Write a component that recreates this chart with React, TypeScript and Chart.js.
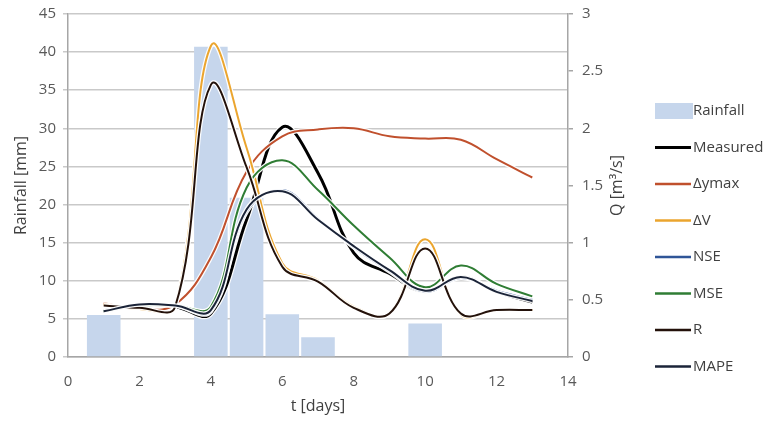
import { useEffect, useRef } from 'react';
import { Chart, registerables } from 'chart.js';

Chart.register(...registerables);

// ---- data ----
const days = [1, 2, 3, 4, 5, 6, 7, 8, 9, 10, 11, 12, 13];
const rainDays = [1, 4, 5, 6, 7, 10];
const rainfall = [5.5, 40.7, 20.9, 5.6, 2.6, 4.4];

const measured = [0.40, 0.45, 0.44, 0.38, 1.20, 2.01, 1.61, 0.91, 0.73, 0.57, 0.70, 0.57, 0.48];
const dYmax = [0.47, 0.42, 0.46, 0.87, 1.62, 1.93, 1.99, 2.00, 1.93, 1.91, 1.90, 1.73, 1.57];
const dV = [0.46, 0.42, 0.44, 2.72, 1.83, 0.82, 0.67, 0.44, 0.38, 1.03, 0.37, 0.41, 0.41];
const nse = [0.41, 0.46, 0.45, 0.40, 1.27, 1.46, 1.21, 0.96, 0.75, 0.57, 0.69, 0.58, 0.50];
const mse = [0.40, 0.45, 0.45, 0.44, 1.48, 1.72, 1.46, 1.15, 0.87, 0.61, 0.80, 0.64, 0.53];
const rSeries = [0.45, 0.43, 0.44, 2.38, 1.66, 0.79, 0.66, 0.43, 0.38, 0.95, 0.38, 0.41, 0.41];
const mape = [0.40, 0.46, 0.45, 0.41, 1.29, 1.45, 1.20, 0.97, 0.76, 0.58, 0.70, 0.57, 0.49];

const FONT = "'Open Sans', 'DejaVu Sans', sans-serif";
const TICK_COLOR = '#595959';
const GRID_COLOR = '#c9c9c9';
const AXIS_COLOR = '#a6a6a6';
const BAR_COLOR = '#c6d6ec';

const toXY = (vals: number[]) => vals.map((v, i) => ({ x: days[i], y: v }));

const haloPlugin = {
  id: 'halo',
  beforeDatasetDraw(chart: any, args: any) {
    const meta = args.meta;
    if (meta.type !== 'line') return;
    const el = meta.dataset;
    if (!el) return;
    const orig = el.options;
    el.options = Object.assign({}, orig, {
      borderColor: 'rgba(255,255,255,0.95)',
      borderWidth: (orig.borderWidth || 2) + 2.5,
    });
    const ctx = chart.ctx;
    ctx.save();
    el.draw(ctx, chart.chartArea);
    ctx.restore();
    el.options = orig;
  },
};

const sideLegendPlugin = {
  id: 'sideLegend',
  afterDraw(chart: any) {
    const ctx = chart.ctx;
    const ca = chart.chartArea;
    // right axis title, reading bottom to top
    ctx.save();
    ctx.fillStyle = '#404040';
    ctx.font = `16px ${FONT}`;
    ctx.textAlign = 'center';
    ctx.textBaseline = 'middle';
    ctx.translate(ca.right + 49, (ca.top + ca.bottom) / 2);
    ctx.rotate(-Math.PI / 2);
    ctx.fillText('Q [m\u00b3/s]', 0, 0);
    ctx.restore();

    // legend
    const sx = ca.right + 87;
    const sw = 38;
    const y0 = 103;
    const step = 36.5;
    ctx.save();
    ctx.font = `15px ${FONT}`;
    ctx.textBaseline = 'middle';
    ctx.textAlign = 'left';
    chart.data.datasets.forEach((ds: any, i: number) => {
      const y = y0 + i * step;
      if (ds.type === 'bar') {
        ctx.fillStyle = ds.backgroundColor;
        ctx.fillRect(sx, y - 8, sw, 16);
      } else {
        ctx.strokeStyle = ds.borderColor;
        ctx.lineWidth = ds.borderWidth >= 3 ? 3 : 2.5;
        ctx.beginPath();
        ctx.moveTo(sx, y);
        ctx.lineTo(sx + sw - 2, y);
        ctx.stroke();
      }
      ctx.fillStyle = '#404040';
      ctx.fillText(ds.label, sx + sw, y);
    });
    ctx.restore();
  },
};

export default function App() {
  const ref = useRef<HTMLCanvasElement | null>(null);

  useEffect(() => {
    if (!ref.current) return;
    const line = (label: string, vals: number[], color: string, width: number, order: number) => ({
      type: 'line' as const,
      label,
      data: toXY(vals),
      borderColor: color,
      backgroundColor: color,
      borderWidth: width,
      pointRadius: 0,
      tension: 0.4,
      fill: false,
      yAxisID: 'y1',
      order,
    });
    const chart = new Chart(ref.current, {
      type: 'bar',
      data: {
        datasets: [
          {
            type: 'bar',
            label: 'Rainfall',
            data: rainDays.map((d, i) => ({ x: d, y: rainfall[i] })),
            backgroundColor: BAR_COLOR,
            borderWidth: 0,
            barPercentage: 0.94,
            categoryPercentage: 1,
            yAxisID: 'y',
            order: 10,
          } as any,
          line('Measured', measured, '#000000', 3, 7),
          line('\u0394ymax', dYmax, '#c0502d', 2, 6),
          line('\u0394V', dV, '#eba52e', 2, 5),
          line('NSE', nse, '#2f5597', 2, 4),
          line('MSE', mse, '#2f7d34', 2, 3),
          line('R', rSeries, '#23110a', 2, 2),
          line('MAPE', mape, '#1b2438', 2, 1),
        ],
      },
      options: {
        animation: false,
        responsive: false,
        layout: { padding: { top: 6, right: 115, left: 0, bottom: 0 } },
        plugins: {
          legend: { display: false },
          tooltip: { enabled: false },
        },
        scales: {
          x: {
            type: 'linear',
            position: 'bottom',
            min: 0,
            max: 14,
            offset: false,
            ticks: { stepSize: 2, color: TICK_COLOR, font: { family: FONT, size: 15 }, padding: 16 },
            grid: { display: false, drawTicks: false, offset: false },
            border: { display: true, color: AXIS_COLOR, width: 1.5 },
            title: {
              display: true,
              text: 't [days]',
              color: '#404040',
              font: { family: FONT, size: 16 },
              padding: { top: 0, bottom: 1 },
            },
            afterFit(s: any) {
              s.height = 60;
              s.paddingLeft = 0;
              s.paddingRight = 0;
            },
          },
          y: {
            type: 'linear',
            position: 'left',
            min: 0,
            max: 45,
            ticks: { stepSize: 5, color: TICK_COLOR, font: { family: FONT, size: 15 }, padding: 7 },
            grid: { color: GRID_COLOR, lineWidth: 1.5, drawTicks: true, tickLength: 5 },
            border: { display: true, color: AXIS_COLOR, width: 1.5 },
            title: {
              display: true,
              text: 'Rainfall [mm]',
              color: '#404040',
              font: { family: FONT, size: 16 },
              padding: { top: 4, bottom: 0 },
            },
            afterFit(s: any) {
              s.width = 60;
              s.paddingTop = 0;
              s.paddingBottom = 0;
            },
          },
          y1: {
            type: 'linear',
            position: 'right',
            min: 0,
            max: 3,
            ticks: {
              stepSize: 0.5,
              color: TICK_COLOR,
              font: { family: FONT, size: 15 },
              padding: 9,
              callback: (v: any) => String(Math.round(Number(v) * 10) / 10),
            },
            grid: { drawOnChartArea: false, drawTicks: true, tickLength: 5, color: AXIS_COLOR, lineWidth: 1.5 },
            border: { display: true, color: AXIS_COLOR, width: 1.5 },
            afterFit(s: any) {
              s.width = 80;
              s.paddingTop = 0;
              s.paddingBottom = 0;
            },
          },
        },
      } as any,
      plugins: [haloPlugin, sideLegendPlugin],
    });
    return () => chart.destroy();
  }, []);

  return (
    <div style={{ width: 755, height: 409 }}>
      <canvas ref={ref} width={755} height={409} style={{ display: 'block', width: 755, height: 409 }} />
    </div>
  );
}
